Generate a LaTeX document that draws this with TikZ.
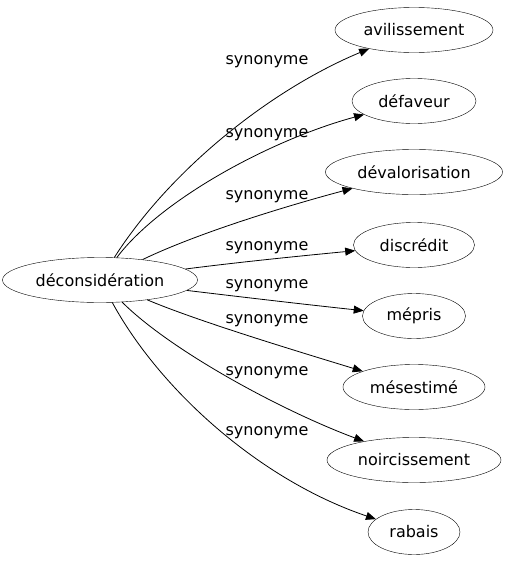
\documentclass[tikz,border=0pt]{standalone}
\usepackage{fontspec}
\setmainfont{DejaVu Sans}
\usetikzlibrary{shapes.geometric,arrows.meta}
\tikzset{
  term/.style={draw, ellipse, inner sep=0pt, minimum height=45pt, font=\fontsize{16}{18}\selectfont},
  syn/.style={font=\fontsize{16}{18}\selectfont},
  link/.style={line width=0.8pt, -{Triangle[length=10pt,width=8pt]}}
}
\begin{document}
\begin{tikzpicture}[x=1pt,y=-1pt]
			%%%%% START %%%%%
			\useasboundingbox (0,0) rectangle (509,563);

			\node[term, minimum width=195pt] (dc) at (100,280) {déconsidération};

			\node[term, minimum width=158pt] (av) at (414,30) {avilissement};
			\node[term, minimum width=124pt] (df) at (414,101) {défaveur};
			\node[term, minimum width=177pt] (dv) at (414,172) {dévalorisation};
			\node[term, minimum width=121pt] (dt) at (414,245) {discrédit};
			\node[term, minimum width=103pt] (mp) at (414,316) {mépris};
			\node[term, minimum width=142pt] (ms) at (414,387) {mésestimé};
			\node[term, minimum width=174pt] (nc) at (414,460) {noircissement};
			\node[term, minimum width=92pt] (rb) at (414,532) {rabais};

			\draw[link] (dc) .. controls (170,170) and (270,90) .. (av);
			\draw[link] (dc) .. controls (160,200) and (270,140) .. (df);
			\draw[link] (dc) .. controls (200,232) and (290,205) .. (dv);
			\draw[link] (dc) .. controls (240,262) and (300,256) .. (dt);
			\draw[link] (dc) .. controls (250,298) and (310,305) .. (mp);
			\draw[link] (dc) .. controls (200,322) and (300,352) .. (ms);
			\draw[link] (dc) .. controls (170,350) and (280,410) .. (nc);
			\draw[link] (dc) .. controls (160,390) and (260,480) .. (rb);

			\node[syn] (s1) at (267,62) {synonyme};
			\node[syn] (s2) at (267,135) {synonyme};
			\node[syn] (s3) at (267,197) {synonyme};
			\node[syn] (s4) at (267,248) {synonyme};
			\node[syn] (s5) at (267,286) {synonyme};
			\node[syn] (s6) at (267,321) {synonyme};
			\node[syn] (s7) at (267,373) {synonyme};
			\node[syn] (s8) at (267,433) {synonyme};
			%%%%% END %%%%%
\end{tikzpicture}
\end{document}
